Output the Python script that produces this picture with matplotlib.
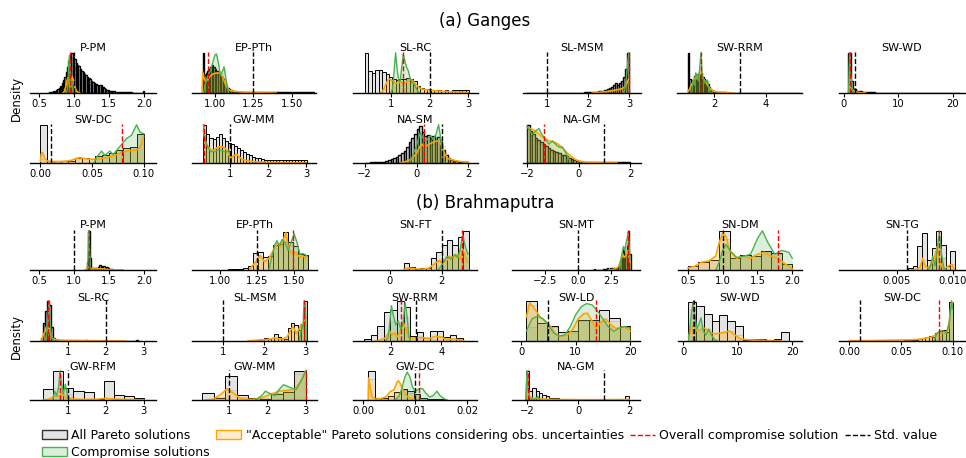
import numpy as np
import matplotlib.pyplot as plt
from matplotlib.patches import Patch
from matplotlib.lines import Line2D

W, H = 966, 458

GRAY = '#e4e4e4'
ORANGE = '#ffa500'
GREEN = '#4caf50'

# ---------------- Ganges ----------------
ga_names = ['P-PM', 'EP-PTh', 'SL-RC', 'SL-MSM', 'SW-RRM', 'SW-WD',
            'SW-DC', 'GW-MM', 'NA-SM', 'NA-GM']
ga_overall = [0.94, 0.955, 1.31, 2.99, 1.5, 1.05, 0.079, 0.31, 0.27, -1.35]
ga_std = [1.0, 1.25, 2.0, 1.0, 3.0, 2.0, 0.01, 1.0, 1.0, 1.0]

ga_ppm_all = [0.1, 0.1, 0.2, 0.2, 0.3, 0.4, 0.5, 0.7, 1.0, 1.3,
              1.8, 2.4, 3.2, 4.0, 5.2, 6.5, 8.0, 9.5, 10.0, 9.0,
              8.5, 7.5, 7.0, 6.8, 6.0, 5.5, 5.2, 4.8, 4.5, 4.0,
              3.8, 3.4, 3.0, 2.8, 2.5, 2.2, 2.0, 1.8, 1.9, 2.0,
              1.5, 1.2, 1.0, 0.8, 0.7, 0.6, 0.5, 0.4, 0.4, 0.3,
              0.3, 0.3, 0.2, 0.2, 0.2, 0.2, 0.2, 0.15, 0.15, 0.15,
              0.15, 0.1, 0.1, 0.1, 0.1, 0.1, 0.1, 0.1, 0.1, 0.4]
ga_ppm_acc = [1.5, 2.5, 3.0, 2.5, 3.0, 3.5, 2.0, 1.0]
ga_ppm_cmp = [6.0, 7.0, 2.0]
ga_ppm_acc_kde = [(0.84, 0), (0.86, 0.4), (0.88, 1.5), (0.90, 3.2), (0.915, 3.8), (0.93, 2.2),
                  (0.945, 1.6), (0.96, 3.0), (0.975, 4.0), (0.99, 3.2), (1.005, 1.8), (1.02, 1.0),
                  (1.04, 0.4), (1.06, 0.1), (1.08, 0)]
ga_ppm_cmp_kde = [(0.89, 0), (0.905, 1.0), (0.915, 4.0), (0.925, 8.0), (0.935, 9.3), (0.945, 7.0),
                  (0.955, 3.5), (0.965, 1.5), (0.975, 2.0), (0.985, 1.0), (1.0, 0.2), (1.01, 0)]

ga_epth_all = [10.0, 4.5, 5.0, 5.5, 6.0, 6.5, 7.0, 6.5, 6.0, 5.5,
               5.0, 4.5, 4.0, 3.5, 2.5, 1.8, 1.2, 0.9, 0.7, 0.6,
               0.5, 0.4, 0.35, 0.3, 0.3, 0.25, 0.25, 0.2, 0.2, 0.2,
               0.2, 0.2, 0.2, 0.15, 0.2, 0.2, 0.15, 0.2, 0.2, 0.15,
               0.2, 0.15, 0.15, 0.2, 0.15, 0.15, 0.2, 0.15, 0.15, 0.15,
               0.15, 0.2, 0.15, 0.15, 0.15, 0.2, 0.15, 0.15, 0.15, 0.15,
               0.15, 0.15, 0.2, 0.15, 0.15, 0.15, 0.15, 0.2, 0.15, 0.15,
               0.15, 0.15, 0.15]
ga_epth_acc = [6.0, 3.5, 3.5, 4.0, 4.5, 5.0, 5.0, 5.0, 4.8, 4.5, 4.5, 4.2, 3.5, 2.5, 1.5, 1.0, 0.6]
ga_epth_cmp = [2.5, 4.5, 5.5, 6.5, 7.0, 6.0, 5.0, 4.0, 4.0, 4.5, 5.5, 5.0, 3.0, 1.0, 0.5]
ga_epth_acc_kde = [(0.915, 0), (0.92, 5.2), (0.93, 3.5), (0.94, 2.8), (0.96, 3.8), (0.98, 4.6),
                   (1.0, 4.9), (1.02, 5.0), (1.04, 4.8), (1.055, 3.5), (1.07, 2.0), (1.085, 1.0),
                   (1.1, 0.6), (1.13, 0.4), (1.17, 0.25), (1.22, 0.15), (1.3, 0.05), (1.4, 0)]
ga_epth_cmp_kde = [(0.925, 0), (0.935, 2.0), (0.95, 4.0), (0.97, 5.5), (0.985, 7.5), (1.0, 9.5),
                   (1.01, 9.7), (1.025, 7.0), (1.035, 4.5), (1.045, 5.0), (1.06, 6.5), (1.07, 4.0),
                   (1.08, 1.5), (1.09, 0)]

ga_slrc_all = [10.0, 5.4, 5.0, 5.7, 5.7, 5.2, 4.7, 3.9, 3.4, 3.2,
               3.5, 3.6, 3.8, 3.4, 2.9, 1.8, 1.2, 1.0, 0.9, 0.8,
               0.8, 0.7, 0.6, 0.7, 0.6, 0.8, 0.8, 0.8, 0.8, 0.8]
ga_slrc_acc = [1.0, 2.5, 3.0, 2.8, 2.6, 2.8, 2.6, 3.0, 3.0, 2.2, 1.2]
ga_slrc_cmp = [1.5, 3.0, 2.8, 3.0, 3.2, 3.0, 2.0, 0.5]
ga_slrc_acc_kde = [(0.72, 0), (0.78, 0.4), (0.84, 1.5), (0.9, 2.8), (0.95, 3.5), (1.0, 3.3),
                   (1.06, 2.9), (1.12, 2.5), (1.18, 2.4), (1.25, 2.8), (1.32, 2.4), (1.38, 2.6),
                   (1.45, 3.3), (1.52, 3.4), (1.58, 2.9), (1.65, 2.1), (1.72, 1.4), (1.8, 1.0),
                   (1.9, 0.8), (2.0, 0.7), (2.2, 0.5), (2.4, 0.4), (2.6, 0.3), (2.8, 0.2), (3.0, 0.1)]
ga_slrc_cmp_kde = [(1.0, 0), (1.04, 1.0), (1.08, 5.0), (1.12, 10.0), (1.16, 6.0), (1.2, 3.0),
                   (1.24, 3.0), (1.28, 6.5), (1.32, 9.6), (1.36, 8.0), (1.4, 6.5), (1.45, 5.5),
                   (1.5, 3.5), (1.55, 2.6), (1.6, 2.2), (1.65, 1.2), (1.7, 0.3), (1.74, 0)]

ga_slmsm_all = [0.1, 0.1, 0.1, 0.1, 0.1, 0.1, 0.1, 0.1, 0.1, 0.1,
                0.1, 0.1, 0.1, 0.1, 0.1, 0.1, 0.1, 0.1, 0.1, 0.1,
                0.1, 0.1, 0.1, 0.1, 0.1, 0.1, 0.1, 0.1, 0.15, 0.15,
                0.15, 0.2, 0.2, 0.25, 0.3, 0.4, 0.5, 0.6, 0.8, 1.0,
                1.2, 1.6, 2.0, 2.4, 2.0, 2.4, 3.0, 4.0, 6.0, 10.0]
ga_slmsm_acc = [0.2, 0.3, 0.4, 0.5, 0.6, 0.7, 0.8, 0.9, 1.0, 1.3, 2.0, 3.5]
ga_slmsm_cmp = [0.5, 3.0, 9.0]
ga_slmsm_acc_kde = [(2.1, 0), (2.3, 0.2), (2.5, 0.4), (2.6, 0.6), (2.7, 0.8), (2.8, 1.0),
                    (2.85, 1.2), (2.9, 1.6), (2.95, 2.5), (2.99, 3.5)]
ga_slmsm_cmp_kde = [(2.86, 0), (2.9, 1.5), (2.94, 4.5), (2.97, 8.0), (2.99, 10.0), (3.0, 9.0)]

ga_swrrm_all = [10.0, 3.5, 3.0, 3.3, 3.6, 4.2, 4.5, 4.8, 4.5, 4.6,
                5.0, 4.0, 3.6, 3.0, 2.8, 2.2, 1.5, 1.0, 0.7, 0.5,
                0.4, 0.35, 0.3, 0.25, 0.2, 0.2, 0.15, 0.15, 0.15, 0.1,
                0.1, 0.1, 0.12, 0.1, 0.1, 0.1, 0.08, 0.1, 0.1, 0.1,
                0.1, 0.08, 0.1, 0.1, 0.1, 0.12, 0.1, 0.1, 0.08, 0.1,
                0.1, 0.1, 0.08, 0.1, 0.1, 0.1, 0.1, 0.08, 0.1, 0.1,
                0.1, 0.1, 0.1, 0.08, 0.1, 0.1, 0.1, 0.1, 0.1, 0.08,
                0.1, 0.1, 0.1, 0.1, 0.08, 0.1, 0.1, 0.1, 0.1, 0.1,
                0.08, 0.1, 0.1, 0.1, 0.1, 0.1]
ga_swrrm_acc = [1.5, 2.5, 3.0, 3.5, 3.2, 4.0, 3.5, 4.0, 4.5, 3.5, 3.2, 2.5, 2.0, 1.2, 0.8]
ga_swrrm_cmp = [2.0, 2.5, 3.5, 3.0, 4.0, 6.0, 3.0, 3.0, 2.5, 2.5, 1.0, 0.3]
ga_swrrm_acc_kde = [(1.0, 0.3), (1.05, 0.8), (1.1, 1.5), (1.15, 2.2), (1.2, 3.0), (1.25, 3.8),
                    (1.3, 3.4), (1.35, 4.5), (1.4, 3.5), (1.45, 4.5), (1.5, 5.0), (1.55, 4.0),
                    (1.6, 3.5), (1.65, 3.0), (1.7, 2.5), (1.8, 1.5), (1.9, 0.8), (2.0, 0.4),
                    (2.2, 0.2), (2.4, 0.1), (2.6, 0.05), (2.7, 0)]
ga_swrrm_cmp_kde = [(1.15, 0), (1.2, 3.0), (1.25, 2.0), (1.3, 5.0), (1.35, 4.0), (1.4, 3.0),
                    (1.45, 6.0), (1.5, 10.0), (1.55, 4.0), (1.6, 3.5), (1.65, 2.5), (1.7, 3.0),
                    (1.75, 3.2), (1.8, 1.5), (1.85, 0.3), (1.9, 0)]

ga_swwd_all = [10.0, 3.0, 1.0, 0.5, 0.4, 0.3, 0.2, 0.2, 0.15, 0.15,
               0.1, 0.1, 0.1, 0.1, 0.1, 0.1, 0.1, 0.1, 0.1, 0.1,
               0.1, 0.1, 0.1, 0.1, 0.1, 0.1, 0.1, 0.1, 0.1, 0.1,
               0.1, 0.1, 0.1, 0.1, 0.1, 0.1, 0.1, 0.1, 0.1, 0.1, 0.1]
ga_swwd_acc = [1.0, 0.5]
ga_swwd_cmp = [4.0]
ga_swwd_acc_kde = [(0.8, 0), (1.0, 1.5), (1.3, 1.2), (1.6, 0.8), (2.0, 0.4), (2.5, 0.2),
                   (3.0, 0.1), (4.0, 0)]
ga_swwd_cmp_kde = [(0.85, 0), (0.95, 6.0), (1.05, 10.0), (1.15, 6.0), (1.3, 4.0), (1.45, 2.5),
                   (1.6, 0.5), (1.8, 0)]

ga_swdc_all = [10.0, 0.6, 0.5, 0.5, 0.6, 1.3, 1.3, 1.0, 1.8, 2.0, 2.6, 3.4, 4.0, 4.2, 7.5]
ga_swdc_acc = [1.0, 0.5, 0.5, 0.5, 0.6, 1.3, 1.3, 1.0, 1.8, 2.0, 2.6, 3.4, 4.0, 4.2, 7.5]
ga_swdc_cmp = [1.8, 2.0, 2.6, 3.4, 4.0, 4.2, 7.5]
ga_swdc_acc_kde = [(0.0, 0.5), (0.001, 2.5), (0.002, 2.8), (0.004, 1.5), (0.006, 0.6),
                   (0.01, 0.4), (0.015, 0.4), (0.02, 0.4), (0.025, 0.5), (0.03, 0.7),
                   (0.035, 1.2), (0.038, 1.4), (0.042, 1.2), (0.046, 1.0), (0.05, 1.0),
                   (0.055, 1.0), (0.06, 1.2), (0.065, 1.5), (0.07, 1.8), (0.075, 2.3),
                   (0.08, 2.9), (0.085, 3.2), (0.09, 3.3), (0.095, 3.6), (0.098, 5.0), (0.1, 7.0)]
ga_swdc_cmp_kde = [(0.052, 0), (0.0544, 1.5), (0.0593, 3.1), (0.0625, 2.0), (0.0673, 3.1),
                   (0.0706, 2.25), (0.077, 4.3), (0.0835, 6.4), (0.0883, 7.25), (0.0932, 10.0),
                   (0.0964, 8.1), (0.1, 7.7)]

ga_gwmm_all = [10.0, 7.5, 6.5, 6.2, 6.8, 7.5, 6.5, 5.8, 5.2, 5.0,
               4.5, 4.0, 3.4, 2.8, 2.4, 2.0, 1.7, 1.4, 1.2, 1.0,
               0.9, 0.9, 0.8, 0.8, 0.8, 0.8, 0.7, 0.8, 0.7, 0.8,
               0.7, 0.8, 0.7, 0.8]
ga_gwmm_acc = [8.0, 4.5, 3.5, 3.2, 3.8, 4.0, 3.8, 3.0, 2.0, 1.6, 2.0, 1.5, 0.9, 0.7, 0.5, 0.4, 0.3, 0.2]
ga_gwmm_cmp = [9.0, 4.0, 3.0, 3.0, 3.3, 3.3, 3.0, 3.2, 3.0]
ga_gwmm_acc_kde = [(0.3, 8.5), (0.35, 5.5), (0.43, 4.2), (0.5, 3.5), (0.56, 3.3), (0.63, 3.8),
                   (0.69, 4.2), (0.78, 4.3), (0.87, 3.9), (0.94, 2.9), (1.0, 1.5), (1.05, 1.5),
                   (1.1, 1.9), (1.18, 2.3), (1.25, 1.5), (1.31, 1.0), (1.44, 0.6), (1.6, 0.4),
                   (1.8, 0.25), (2.0, 0.15), (2.4, 0.1), (2.8, 0.05), (3.0, 0.03)]
ga_gwmm_cmp_kde = [(0.3, 10.0), (0.35, 6.0), (0.42, 4.0), (0.5, 3.0), (0.6, 3.0), (0.7, 3.5),
                   (0.8, 3.2), (0.9, 2.8), (0.97, 3.4), (1.0, 3.0)]

ga_nasm_all = [0.1, 0.1, 0.15, 0.2, 0.2, 0.25, 0.3, 0.35, 0.6, 0.8,
               1.0, 1.2, 1.5, 2.0, 2.6, 3.2, 4.2, 5.4, 6.5, 7.5,
               8.8, 9.8, 8.0, 7.0, 7.2, 6.5, 7.0, 6.0, 6.8, 5.5,
               3.5, 2.0, 1.2, 0.8, 0.6, 0.4, 0.3, 0.3, 0.2, 0.2]
ga_nasm_acc = [0.5, 1.0, 1.5, 2.5, 3.5, 4.5, 5.0, 4.5, 4.0, 4.5,
               5.0, 5.0, 5.5, 5.5, 4.5, 2.5, 1.2, 0.8, 0.6, 0.4]
ga_nasm_cmp = [1.0, 3.0, 5.0, 6.5, 6.5, 5.5, 6.0, 6.0, 6.0, 6.5, 6.0, 2.5]
ga_nasm_acc_kde = [(-0.6, 0), (-0.4, 0.4), (-0.2, 1.0), (0.0, 2.5), (0.1, 4.0), (0.2, 5.0),
                   (0.3, 4.2), (0.4, 4.5), (0.5, 5.0), (0.6, 5.3), (0.7, 5.6), (0.8, 5.8),
                   (0.9, 5.5), (1.0, 4.0), (1.1, 2.2), (1.2, 1.2), (1.3, 1.0), (1.4, 0.8),
                   (1.6, 0.5), (1.8, 0.3), (2.0, 0.2)]
ga_nasm_cmp_kde = [(-0.25, 0), (-0.15, 2.0), (0.0, 4.5), (0.1, 7.0), (0.15, 8.0), (0.25, 6.5),
                   (0.35, 5.5), (0.45, 6.5), (0.55, 7.2), (0.65, 6.0), (0.75, 7.5), (0.85, 10.0),
                   (0.92, 7.0), (1.0, 2.5), (1.05, 0.8), (1.1, 0)]

ga_nagm_all = [10.0, 8.5, 7.5, 6.5, 6.0, 5.5, 5.0, 4.5, 4.0, 3.5,
               3.2, 3.0, 2.5, 2.2, 2.0, 1.8, 1.3, 1.0, 0.7, 0.5,
               0.4, 0.35, 0.3, 0.3, 0.25, 0.25, 0.2, 0.2, 0.2, 0.2,
               0.2, 0.2, 0.2, 0.2, 0.2, 0.25, 0.2, 0.2, 0.25, 0.3]
ga_nagm_acc = [9.0, 8.0, 7.0, 6.0, 5.5, 5.0, 4.8, 4.5, 4.0, 3.6,
               3.2, 2.8, 2.5, 2.0, 1.6, 1.2, 0.8, 0.5, 0.3, 0.2]
ga_nagm_cmp = [9.5, 8.0, 7.0, 6.0, 5.5, 5.0, 4.5, 4.0, 3.6, 3.0, 2.8, 2.5, 2.3, 2.0, 1.4, 0.8, 0.3]
ga_nagm_acc_kde = [(-2.0, 9.3), (-1.86, 9.0), (-1.7, 8.5), (-1.6, 7.9), (-1.45, 7.0), (-1.3, 6.4),
                   (-1.15, 5.8), (-1.0, 5.5), (-0.85, 5.2), (-0.7, 4.4), (-0.55, 3.4), (-0.4, 2.4),
                   (-0.25, 1.5), (-0.1, 0.85), (0.05, 0.45), (0.2, 0.25), (0.4, 0.15), (0.7, 0.08),
                   (1.0, 0.05), (1.5, 0.02)]
ga_nagm_cmp_kde = [(-2.0, 9.6), (-1.9, 8.5), (-1.79, 7.5), (-1.65, 8.5), (-1.54, 9.0), (-1.45, 7.8),
                   (-1.34, 6.6), (-1.15, 4.9), (-1.02, 5.8), (-0.9, 5.0), (-0.83, 4.5), (-0.7, 4.0),
                   (-0.63, 4.2), (-0.52, 3.0), (-0.44, 1.9), (-0.36, 0.8), (-0.3, 0)]

# ---------------- Brahmaputra ----------------
br_names = ['P-PM', 'EP-PTh', 'SN-FT', 'SN-MT', 'SN-DM', 'SN-TG',
            'SL-RC', 'SL-MSM', 'SW-RRM', 'SW-LD', 'SW-WD', 'SW-DC',
            'GW-RFM', 'GW-MM', 'GW-DC', 'NA-GM']
br_overall = [1.21, 1.49, 2.78, 3.8, 1.8, 0.0088, 0.48, 2.96, 2.42, 13.7, 1.8, 0.087,
              0.8, 3.0, 0.0108, -1.97]
br_std = [1.0, 1.25, 2.0, 0.0, 1.0, 0.0059, 2.0, 1.0, 3.0, 5.0, 2.0, 0.01,
          1.0, 1.0, 0.01, 1.0]

br_ppm_all = [2.0, 10.0, 3.0, 0.6, 0.4, 0.5, 0.4, 0.6, 0.8, 1.2, 1.0, 0.8, 0.9,
              0.6, 0.7, 0.4, 0.3, 0.2, 0.2, 0.1, 0.1, 0.1, 0.1, 0.05, 0.05, 0.05]
br_ppm_acc = [0.5, 1.0, 0.6, 0.3, 0.2]
br_ppm_cmp = [6.0]
br_ppm_acc_kde = [(1.16, 0), (1.19, 0.5), (1.21, 0.8), (1.23, 0.5), (1.26, 0.3), (1.3, 0.25),
                  (1.35, 0.3), (1.4, 0.3), (1.45, 0.2), (1.5, 0.1), (1.6, 0.05), (1.7, 0)]
br_ppm_cmp_kde = [(1.19, 0), (1.2, 3.0), (1.21, 10.0), (1.22, 6.0), (1.23, 1.0), (1.24, 0)]

br_epth_all = [0.2, 0.2, 0.2, 0.6, 0.9, 4.3, 4.6, 3.3, 3.5, 6.3, 6.7, 9.8, 7.1, 6.2, 4.2, 3.9]
br_epth_acc = [1.5, 3.0, 2.5, 3.0, 5.5, 6.0, 8.5, 5.0, 4.5, 4.0, 3.5]
br_epth_cmp = [1.0, 6.0, 6.5, 7.5, 6.5, 6.0, 4.0, 3.8]
br_epth_acc_kde = [(1.2, 0.3), (1.24, 2.0), (1.27, 3.7), (1.3, 2.1), (1.33, 3.0), (1.36, 5.0),
                   (1.385, 6.7), (1.41, 6.0), (1.43, 8.0), (1.445, 9.5), (1.46, 6.0), (1.48, 4.2),
                   (1.5, 4.6), (1.52, 4.0), (1.54, 3.3), (1.56, 3.6), (1.58, 3.0), (1.59, 2.8)]
br_epth_cmp_kde = [(1.33, 0), (1.35, 3.5), (1.37, 6.5), (1.385, 7.5), (1.40, 6.3), (1.42, 7.8),
                   (1.44, 7.0), (1.46, 5.0), (1.48, 7.0), (1.5, 9.3), (1.52, 7.0), (1.54, 4.0),
                   (1.56, 4.2), (1.58, 3.8), (1.59, 3.5)]

br_snft_all = [1.9, 0.7, 0.3, 0.6, 0.5, 3.0, 4.7, 6.5, 7.6, 6.3, 8.5, 10.0]
br_snft_acc = [0.3, 0.5, 0.3, 0.3, 0.5, 1.5, 2.0, 2.5, 3.0, 3.5, 4.0, 3.0]
br_snft_cmp = [1.0, 2.5, 3.0, 3.5, 5.0, 4.5]
br_snft_acc_kde = [(0.54, 0.2), (0.7, 0.5), (0.9, 0.4), (1.1, 0.2), (1.3, 0.25), (1.5, 0.5),
                   (1.7, 1.5), (1.9, 2.5), (2.0, 1.8), (2.15, 2.2), (2.3, 3.5), (2.45, 3.0),
                   (2.6, 4.0), (2.7, 2.8), (2.8, 5.3), (2.9, 3.5), (3.0, 2.0)]
br_snft_cmp_kde = [(1.85, 0), (1.95, 0.8), (2.05, 2.0), (2.2, 3.5), (2.35, 2.8), (2.5, 4.0),
                   (2.6, 3.2), (2.7, 5.0), (2.8, 9.0), (2.9, 6.0), (3.0, 4.0)]

br_snmt_all = [0.1, 0.1, 0.2, 0.1, 0.1, 0.1, 0.1, 0.1, 0.1, 0.2,
               0.3, 0.3, 0.4, 0.3, 0.4, 0.5, 0.4, 0.5, 0.6, 0.5,
               0.8, 1.5, 2.5, 3.5, 5.5, 3.0, 4.0, 6.0, 10.0, 4.0]
br_snmt_acc = [0.5, 1.5, 2.0, 3.0, 4.0, 3.0, 3.5, 4.5, 5.0, 2.0]
br_snmt_cmp = [1.0, 3.0, 5.0, 4.0, 5.0, 7.0, 9.0, 3.0]
br_snmt_acc_kde = [(2.3, 0), (2.6, 0.1), (2.9, 0.4), (3.1, 1.0), (3.2, 2.0), (3.3, 3.0),
                   (3.4, 4.0), (3.5, 3.2), (3.6, 3.5), (3.7, 4.2), (3.8, 5.0), (3.9, 3.0), (3.95, 2.0)]
br_snmt_cmp_kde = [(3.15, 0), (3.25, 2.5), (3.35, 4.5), (3.45, 6.0), (3.55, 5.0), (3.65, 7.0),
                   (3.75, 8.5), (3.82, 9.5), (3.9, 5.0), (3.95, 2.5)]

br_sndm_all = [1.0, 2.0, 2.6, 10.0, 3.0, 3.8, 3.6, 4.8, 4.4, 1.5]
br_sndm_acc = [1.0, 2.0, 2.6, 8.0, 3.0, 3.6, 3.5, 4.5, 4.2, 1.5]
br_sndm_cmp = [4.5, 3.0, 3.8, 3.6, 4.8, 4.4, 1.5]
br_sndm_acc_kde = [(0.5, 0.5), (0.6, 1.0), (0.7, 2.0), (0.8, 2.3), (0.9, 3.5), (0.95, 7.0),
                   (1.0, 9.5), (1.05, 8.5), (1.1, 5.0), (1.2, 3.0), (1.3, 3.5), (1.4, 3.0),
                   (1.5, 4.0), (1.6, 4.5), (1.7, 3.5), (1.8, 3.0), (1.9, 1.5), (2.0, 0.3)]
br_sndm_cmp_kde = [(0.9, 0), (0.95, 2.0), (1.0, 5.0), (1.05, 6.5), (1.1, 5.0), (1.2, 3.2),
                   (1.3, 3.5), (1.4, 4.0), (1.5, 8.0), (1.57, 10.0), (1.65, 7.0), (1.75, 4.0),
                   (1.8, 4.5), (1.85, 5.0), (1.95, 4.5), (2.0, 3.0)]

br_sntg_all = [0.6, 1.0, 6.0, 9.5, 2.5, 5.5, 10.0, 6.5, 1.0, 4.8]
br_sntg_acc = [0.5, 2.5, 1.0, 1.5, 4.0, 3.0, 0.8, 1.5]
br_sntg_cmp = [0.5, 2.5, 8.0, 3.0]
br_sntg_acc_kde = [(0.0062, 0), (0.0068, 0.2), (0.0071, 0.8), (0.0073, 3.0), (0.0075, 1.0),
                   (0.0078, 0.5), (0.0081, 1.5), (0.0084, 3.5), (0.0086, 6.0), (0.0088, 2.5),
                   (0.0091, 0.5), (0.0094, 0.6), (0.0097, 1.2), (0.0099, 1.5), (0.0101, 0.3)]
br_sntg_cmp_kde = [(0.0078, 0), (0.008, 1.0), (0.0082, 3.5), (0.0084, 1.0), (0.0086, 5.0),
                   (0.0088, 9.5), (0.009, 4.0), (0.0092, 0.5), (0.0094, 0)]

br_slrc_all = [0.8, 4.5, 7.5, 10.0, 9.0, 3.5, 0.8, 0.3, 0.2, 0.1,
               0.05, 0.05, 0, 0, 0, 0, 0, 0, 0.3, 0,
               0, 0, 0, 0.3, 0, 0, 0, 0, 0.1, 0,
               0, 0, 0, 0, 0, 0, 0, 0, 0, 0,
               0, 0, 0, 0, 0, 0, 0, 0, 0, 0, 0.2]
br_slrc_acc = [0.8, 2.0, 2.5, 3.0, 2.5, 1.5, 0.5, 0.2]
br_slrc_cmp = [1.5, 6.0, 7.0, 1.0]
br_slrc_acc_kde = [(0.3, 0), (0.35, 1.5), (0.4, 2.4), (0.43, 3.5), (0.46, 2.5), (0.5, 3.2),
                   (0.55, 1.5), (0.6, 0.6), (0.7, 0.3), (0.9, 0.2), (1.2, 0.15), (1.5, 0.1),
                   (2.0, 0.05), (2.5, 0.02)]
br_slrc_cmp_kde = [(0.4, 0), (0.44, 2.0), (0.47, 6.0), (0.5, 10.0), (0.53, 5.0), (0.56, 1.5),
                   (0.6, 0.3), (0.65, 0)]

br_slmsm_all = [0.2, 0.2, 0.3, 0.3, 0.5, 0.7, 0.6, 0.8, 1.8, 1.0, 0.8, 0.6, 3.2, 4.4, 4.0, 2.8, 4.0, 10.0]
br_slmsm_acc = [0.3, 0.4, 0.4, 0.7, 0.8, 0.6, 0.5, 0.6, 2.0, 2.5, 2.0, 2.5, 4.0, 6.0]
br_slmsm_cmp = [1.0, 3.0, 9.0]
br_slmsm_acc_kde = [(1.6, 0), (1.8, 0.2), (2.0, 0.3), (2.15, 0.5), (2.25, 0.8), (2.35, 0.5),
                    (2.45, 0.5), (2.55, 1.0), (2.61, 2.3), (2.69, 3.6), (2.77, 1.9), (2.83, 2.8),
                    (2.89, 4.2), (2.93, 3.5), (2.97, 5.7), (3.0, 6.0)]
br_slmsm_cmp_kde = [(2.84, 0), (2.87, 1.5), (2.9, 4.0), (2.93, 3.0), (2.96, 10.0), (2.99, 9.0), (3.01, 0)]

br_swrrm_all = [0.5, 1.5, 3.8, 7.3, 7.6, 10.0, 8.5, 1.3, 2.3, 0.8, 2.6, 2.6, 0.9, 1.6, 0.8]
br_swrrm_acc = [0.8, 2.0, 1.8, 3.5, 1.0, 0.7, 0.9, 0.6, 1.2, 1.0, 0.5, 0.4]
br_swrrm_cmp = [5.0, 4.5, 6.0]
br_swrrm_acc_kde = [(1.4, 0), (1.6, 0.3), (1.8, 0.8), (1.95, 2.5), (2.05, 1.5), (2.15, 2.0),
                    (2.25, 1.0), (2.35, 2.0), (2.5, 4.5), (2.6, 3.0), (2.7, 1.0), (2.8, 0.5),
                    (3.0, 0.8), (3.2, 0.9), (3.5, 0.6), (3.8, 1.2), (4.0, 1.0), (4.2, 0.4),
                    (4.5, 0.5), (4.8, 0.2), (4.9, 0)]
br_swrrm_cmp_kde = [(1.8, 0), (1.9, 1.0), (1.97, 5.0), (2.03, 8.8), (2.1, 6.5), (2.2, 4.0),
                    (2.3, 5.0), (2.4, 3.0), (2.48, 4.0), (2.57, 9.5), (2.65, 6.0), (2.72, 1.0), (2.78, 0)]

br_swld_all = [10.0, 4.5, 3.8, 2.2, 2.6, 5.3, 5.2, 7.6, 5.6, 3.7]
br_swld_acc = [9.0, 4.5, 3.5, 1.5, 2.0, 5.0, 5.0, 5.0, 5.0, 3.5]
br_swld_cmp = [3.5, 4.5, 3.5, 2.2, 2.6, 5.3, 5.2, 5.0, 3.5, 3.5]
br_swld_acc_kde = [(1.0, 6.0), (1.6, 9.5), (2.5, 8.0), (3.5, 6.0), (4.5, 5.0), (5.5, 3.5),
                   (6.5, 1.5), (7.5, 1.2), (8.5, 1.5), (9.5, 3.0), (10.5, 5.5), (11.5, 6.8),
                   (12.2, 6.9), (13.0, 5.0), (13.8, 3.0), (14.5, 4.5), (15.5, 5.5), (16.5, 4.0),
                   (17.5, 3.0), (18.8, 3.6), (19.5, 3.0), (20.0, 2.5)]
br_swld_cmp_kde = [(1.0, 2.5), (2.0, 5.5), (3.0, 6.2), (4.0, 5.5), (5.0, 4.0), (6.0, 2.0),
                   (7.0, 1.2), (8.0, 1.5), (9.0, 3.5), (10.0, 6.5), (11.0, 8.5), (12.0, 9.3),
                   (13.0, 9.0), (14.0, 7.5), (15.0, 5.5), (16.0, 3.5), (17.0, 2.4), (18.0, 3.2),
                   (19.0, 3.6), (20.0, 3.2)]

br_swwd_all = [9.8, 8.8, 6.7, 5.0, 6.4, 5.0, 3.8, 0.25, 0.6, 0.5, 0.0, 0.6, 2.3]
br_swwd_acc = [4.0, 3.0, 3.0, 2.0, 2.0, 2.5, 1.5, 0.3, 0.3, 0.2]
br_swwd_cmp = [8.0, 4.0, 2.5, 0.5]
br_swwd_acc_kde = [(1.0, 1.0), (1.5, 3.0), (2.0, 4.0), (2.5, 2.5), (3.0, 2.8), (4.0, 3.2),
                   (5.0, 2.0), (6.0, 1.8), (7.0, 2.0), (8.0, 2.3), (8.5, 2.5), (9.5, 1.5),
                   (10.5, 0.5), (12.0, 0.3), (14.0, 0.2), (16.0, 0.1), (18.0, 0.05)]
br_swwd_cmp_kde = [(1.0, 0), (1.4, 5.0), (1.8, 9.5), (2.1, 7.0), (2.5, 3.0), (3.0, 4.5),
                   (3.3, 5.8), (3.7, 2.5), (4.2, 1.5), (4.7, 3.0), (5.2, 1.5), (5.8, 0.3), (6.2, 0)]

br_swdc_all = [0.05, 0.05, 0.05, 0.05, 0.1, 0.05, 0.05, 0.1, 0.1, 0.1,
               0.1, 0.3, 0.1, 0.1, 0.1, 0.1, 0.3, 0.3, 0.2, 0.3,
               0.6, 0.8, 1.0, 1.2, 1.0, 2.0, 2.6, 2.8, 2.2, 9.8]
br_swdc_acc = [0.5, 0.6, 0.8, 1.0, 0.9, 1.8, 2.2, 2.2, 2.0, 9.0]
br_swdc_cmp = [1.5, 2.4, 2.6, 2.0, 9.5]
br_swdc_acc_kde = [(0.0, 0.1), (0.02, 0.1), (0.04, 0.2), (0.05, 0.25), (0.06, 0.3), (0.07, 0.5),
                   (0.075, 0.8), (0.08, 1.0), (0.085, 1.8), (0.09, 2.0), (0.093, 1.8),
                   (0.096, 3.0), (0.098, 8.0), (0.1, 9.5)]
br_swdc_cmp_kde = [(0.082, 0), (0.085, 2.0), (0.088, 2.5), (0.091, 2.5), (0.094, 2.0),
                   (0.097, 5.0), (0.099, 10.0), (0.1, 8.0)]

br_gwrfm_all = [3.9, 10.0, 4.2, 3.0, 2.7, 0.4, 6.3, 1.8, 1.45, 0.85]
br_gwrfm_acc = [0.5, 1.5, 1.0, 0.3, 0.3, 0.3, 0.6, 0.3, 0.2, 0.1]
br_gwrfm_cmp = [4.0, 2.0]
br_gwrfm_acc_kde = [(0.35, 0), (0.5, 0.3), (0.6, 1.0), (0.7, 1.8), (0.78, 1.0), (0.85, 2.5),
                    (0.92, 1.0), (1.0, 0.5), (1.2, 0.3), (1.5, 0.2), (1.8, 0.3), (2.0, 0.6),
                    (2.2, 0.3), (2.5, 0.2), (2.8, 0.1), (3.0, 0.05)]
br_gwrfm_cmp_kde = [(0.6, 0), (0.65, 3.0), (0.7, 1.5), (0.75, 4.0), (0.79, 9.5), (0.84, 5.0),
                    (0.88, 2.0), (0.93, 5.4), (0.98, 2.0), (1.02, 0)]

br_gwmm_all = [2.4, 0.6, 8.1, 1.6, 0.6, 0.5, 2.0, 2.8, 10.0]
br_gwmm_acc = [0.3, 1.0, 3.5, 1.0, 0.2, 0.8, 2.5, 3.0, 9.0]
br_gwmm_cmp = [0.5, 2.0, 2.8, 9.5]
br_gwmm_acc_kde = [(0.4, 0), (0.6, 0.3), (0.8, 2.0), (0.95, 3.8), (1.1, 2.5), (1.3, 0.5),
                   (1.5, 0.2), (1.7, 0.3), (1.9, 1.0), (2.1, 2.0), (2.3, 3.0), (2.5, 3.3),
                   (2.7, 3.6), (2.85, 6.0), (3.0, 10.0)]
br_gwmm_cmp_kde = [(1.7, 0), (1.85, 1.5), (1.95, 3.0), (2.05, 2.3), (2.2, 1.5), (2.3, 3.5),
                   (2.42, 5.2), (2.6, 4.2), (2.75, 3.6), (2.9, 7.0), (3.0, 10.0)]

br_gwdc_all = [10.0, 0.85, 0.85, 1.45, 2.65, 3.9, 3.0, 2.0, 0.85, 0.5, 0.3, 0.2]
br_gwdc_acc = [7.0, 0.4, 0.5, 1.2, 2.5, 3.5, 2.5, 0.5, 0.1]
br_gwdc_cmp = [0.5, 3.5, 3.0, 2.0, 0.85, 0.5, 0.3, 0.2]
br_gwdc_acc_kde = [(0.001, 0), (0.0011, 7.5), (0.0014, 4.0), (0.0018, 1.0), (0.0025, 0.3),
                   (0.0035, 0.5), (0.0045, 1.2), (0.0052, 2.8), (0.0056, 3.2), (0.006, 3.5),
                   (0.0065, 5.8), (0.0068, 6.6), (0.0072, 5.5), (0.0078, 3.0), (0.0085, 1.2),
                   (0.0092, 0.5), (0.01, 0.2), (0.011, 0.05), (0.012, 0)]
br_gwdc_cmp_kde = [(0.006, 0), (0.0065, 0.5), (0.007, 1.5), (0.0075, 4.0), (0.008, 7.5),
                   (0.0085, 9.5), (0.009, 8.0), (0.0095, 4.5), (0.01, 3.0), (0.0105, 3.5),
                   (0.011, 4.0), (0.0115, 3.8), (0.012, 2.5), (0.0128, 1.0), (0.0135, 1.5),
                   (0.0142, 3.0), (0.0148, 1.5), (0.0155, 0.5), (0.0162, 0)]

br_nagm_all = [10.0, 3.2, 4.2, 3.0, 2.4, 1.8, 1.2, 0.8, 0.6, 0.6,
               0.4, 0.3, 0.3, 0.3, 0.2, 0.2, 0.15, 0.1, 0.1, 0.1,
               0.1, 0.1, 0.1, 0.1, 0.1, 0.1, 0.1, 0.1, 0.1, 0.3, 1.5]
br_nagm_acc = [7.0, 0.8, 0.6, 0.5, 0.4, 0.3, 0.2, 0.2]
br_nagm_cmp = [9.0, 0.5, 0.3, 1.0]
br_nagm_acc_kde = [(-2.05, 0), (-2.0, 8.0), (-1.95, 3.0), (-1.9, 1.0), (-1.8, 0.6), (-1.6, 0.5),
                   (-1.4, 0.3), (-1.0, 0.2), (0.0, 0.1), (1.0, 0.1), (1.8, 0.15), (2.0, 0.2)]
br_nagm_cmp_kde = [(-2.05, 0), (-2.0, 10.0), (-1.95, 4.0), (-1.9, 1.0), (-1.85, 0.5), (-1.75, 0),
                   (-1.65, 0.6), (-1.58, 1.2), (-1.5, 0)]

# panel layout: (histogram start, bin width, acc offset, cmp offset, xlim, xticks, column, row)
ga_cols = [(30, 156), (192, 316), (353, 478), (523, 641), (677, 802), (839, 965)]
ga_rows = [(52, 93, 48), (124, 163, 120)]
br_cols = [(30, 156), (192, 317), (353, 477), (512, 640), (678, 802), (839, 965)]
br_rows = [(230, 270, 225), (300, 341, 298), (370, 400, 367)]

ga_layout = [
    (0.6, 0.02, 14, 16, (0.37, 2.17), [0.5, 1.0, 1.5, 2.0], 0, 0),
    (0.92, 0.01, 0, 1, (0.85, 1.66), [1.0, 1.25, 1.5], 1, 0),
    (0.32, 0.09, 5, 8, (0.02, 3.25), [1, 2, 3], 2, 0),
    (0.5, 0.05, 38, 47, (0.415, 3.29), [1, 2, 3], 3, 0),
    (1.0, 0.05, 2, 4, (0.58, 5.38), [2, 4], 4, 0),
    (0.75, 0.5, 0, 0, (-0.9, 22.2), [0, 10, 20], 5, 0),
    (0.0, 0.1 / 15, 0, 8, (-0.01, 0.112), [0.0, 0.05, 0.1], 0, 1),
    (0.3, 0.08, 0, 0, (0.0, 3.26), [1, 2, 3], 1, 1),
    (-2.0, 0.1, 16, 18, (-2.45, 2.37), [-2, 0, 2], 2, 1),
    (-2.0, 0.1, 0, 0, (-2.16, 2.43), [-2, 0, 2], 3, 1),
]
br_layout = [
    (1.18, 0.02, 0, 1, (0.37, 2.17), [0.5, 1.0, 1.5, 2.0], 0, 0),
    (1.05, 0.034, 5, 8, (0.81, 1.655), [1.0, 1.25, 1.5], 1, 0),
    (0.54, 0.2075, 0, 6, (-1.42, 3.35), [0, 2], 2, 0),
    (1.0, 0.1, 20, 22, (-5.0, 4.7), [-2.5, 0.0, 2.5], 3, 0),
    (0.5, 0.15, 0, 3, (0.357, 2.14), [0.5, 1.0, 1.5, 2.0], 4, 0),
    (0.006, 0.00042, 2, 4, (-0.0002, 0.0111), [0.005, 0.010], 5, 0),
    (0.3, 0.05, 0, 2, (0.0, 3.32), [1, 2, 3], 0, 1),
    (1.6, 0.08, 4, 15, (0.25, 3.27), [1, 2, 3], 1, 1),
    (0.95, 0.26, 3, 4, (0.51, 5.41), [2, 4], 2, 1),
    (1.0, 1.9, 0, 0, (-1.65, 21.8), [0, 10, 20], 3, 1),
    (1.0, 1.42, 0, 0, (-0.92, 21.8), [0, 10, 20], 4, 1),
    (0.0, 0.1 / 30, 20, 25, (-0.01, 0.112), [0.0, 0.05, 0.1], 5, 1),
    (0.35, 0.265, 0, 1, (0.0, 3.32), [1, 2, 3], 0, 2),
    (0.3, 0.3, 0, 5, (0.04, 3.29), [1, 2, 3], 1, 2),
    (0.001, 0.00125, 0, 4, (-0.0019, 0.0219), [0.0, 0.01, 0.02], 2, 2),
    (-2.05, 0.13, 0, 0, (-2.59, 2.43), [-2, 0, 2], 3, 2),
]

ga_data = [
    (ga_ppm_all, ga_ppm_acc, ga_ppm_cmp, ga_ppm_acc_kde, ga_ppm_cmp_kde),
    (ga_epth_all, ga_epth_acc, ga_epth_cmp, ga_epth_acc_kde, ga_epth_cmp_kde),
    (ga_slrc_all, ga_slrc_acc, ga_slrc_cmp, ga_slrc_acc_kde, ga_slrc_cmp_kde),
    (ga_slmsm_all, ga_slmsm_acc, ga_slmsm_cmp, ga_slmsm_acc_kde, ga_slmsm_cmp_kde),
    (ga_swrrm_all, ga_swrrm_acc, ga_swrrm_cmp, ga_swrrm_acc_kde, ga_swrrm_cmp_kde),
    (ga_swwd_all, ga_swwd_acc, ga_swwd_cmp, ga_swwd_acc_kde, ga_swwd_cmp_kde),
    (ga_swdc_all, ga_swdc_acc, ga_swdc_cmp, ga_swdc_acc_kde, ga_swdc_cmp_kde),
    (ga_gwmm_all, ga_gwmm_acc, ga_gwmm_cmp, ga_gwmm_acc_kde, ga_gwmm_cmp_kde),
    (ga_nasm_all, ga_nasm_acc, ga_nasm_cmp, ga_nasm_acc_kde, ga_nasm_cmp_kde),
    (ga_nagm_all, ga_nagm_acc, ga_nagm_cmp, ga_nagm_acc_kde, ga_nagm_cmp_kde),
]
br_data = [
    (br_ppm_all, br_ppm_acc, br_ppm_cmp, br_ppm_acc_kde, br_ppm_cmp_kde),
    (br_epth_all, br_epth_acc, br_epth_cmp, br_epth_acc_kde, br_epth_cmp_kde),
    (br_snft_all, br_snft_acc, br_snft_cmp, br_snft_acc_kde, br_snft_cmp_kde),
    (br_snmt_all, br_snmt_acc, br_snmt_cmp, br_snmt_acc_kde, br_snmt_cmp_kde),
    (br_sndm_all, br_sndm_acc, br_sndm_cmp, br_sndm_acc_kde, br_sndm_cmp_kde),
    (br_sntg_all, br_sntg_acc, br_sntg_cmp, br_sntg_acc_kde, br_sntg_cmp_kde),
    (br_slrc_all, br_slrc_acc, br_slrc_cmp, br_slrc_acc_kde, br_slrc_cmp_kde),
    (br_slmsm_all, br_slmsm_acc, br_slmsm_cmp, br_slmsm_acc_kde, br_slmsm_cmp_kde),
    (br_swrrm_all, br_swrrm_acc, br_swrrm_cmp, br_swrrm_acc_kde, br_swrrm_cmp_kde),
    (br_swld_all, br_swld_acc, br_swld_cmp, br_swld_acc_kde, br_swld_cmp_kde),
    (br_swwd_all, br_swwd_acc, br_swwd_cmp, br_swwd_acc_kde, br_swwd_cmp_kde),
    (br_swdc_all, br_swdc_acc, br_swdc_cmp, br_swdc_acc_kde, br_swdc_cmp_kde),
    (br_gwrfm_all, br_gwrfm_acc, br_gwrfm_cmp, br_gwrfm_acc_kde, br_gwrfm_cmp_kde),
    (br_gwmm_all, br_gwmm_acc, br_gwmm_cmp, br_gwmm_acc_kde, br_gwmm_cmp_kde),
    (br_gwdc_all, br_gwdc_acc, br_gwdc_cmp, br_gwdc_acc_kde, br_gwdc_cmp_kde),
    (br_nagm_all, br_nagm_acc, br_nagm_cmp, br_nagm_acc_kde, br_nagm_cmp_kde),
]


def draw_panel(fig, name, data, layout, best, std, cols, rows):
    all_h, acc_h, cmp_h, acc_kde, cmp_kde = data
    x0, w, ia, ic, xlim, ticks, c, r = layout
    left, right = cols[c]
    top, bottom, title_y = rows[r]
    ax = fig.add_axes([left / W, 1 - bottom / H, (right - left) / W, (bottom - top) / H])

    # narrow bins get a slightly heavier outline so dense histograms read as solid
    bin_px = w / (xlim[1] - xlim[0]) * (right - left)
    edge_lw = 1.0 if bin_px < 3 else 0.7

    edges = x0 + w * np.arange(len(all_h))
    ax.bar(edges, all_h, width=w, align='edge', color=GRAY, edgecolor='black', linewidth=edge_lw)
    ax.bar(edges[ia:ia + len(acc_h)], acc_h, width=w, align='edge', color=ORANGE, alpha=0.12,
           edgecolor='black', linewidth=0.6)
    ax.bar(edges[ic:ic + len(cmp_h)], cmp_h, width=w, align='edge', color=GREEN, alpha=0.1,
           edgecolor='black', linewidth=0.6)

    for kde, col, lw in [(acc_kde, ORANGE, 1.2), (cmp_kde, GREEN, 1.0)]:
        kx, ky = zip(*kde)
        ax.fill_between(kx, ky, color=col, alpha=0.2, linewidth=0)
        ax.plot(kx, ky, color=col, lw=lw)

    ax.axvline(best, color='red', ls='--', lw=1.0)
    ax.axvline(std, color='black', ls='--', lw=1.0)

    ax.set_xlim(xlim)
    ax.set_ylim(0, 10.2)
    ax.set_xticks(ticks)
    ax.set_yticks([])
    ax.tick_params(axis='x', labelsize=7.2, length=3, width=0.8, pad=1.5)
    for s in ['top', 'right', 'left']:
        ax.spines[s].set_visible(False)
    ax.spines['bottom'].set_linewidth(1.0)
    fig.text((left + right) / 2 / W, 1 - title_y / H, name, ha='center', va='center', fontsize=8)


fig = plt.figure(figsize=(W / 100, H / 100), dpi=100)

for name, data, layout, best, std in zip(ga_names, ga_data, ga_layout, ga_overall, ga_std):
    draw_panel(fig, name, data, layout, best, std, ga_cols, ga_rows)
for name, data, layout, best, std in zip(br_names, br_data, br_layout, br_overall, br_std):
    draw_panel(fig, name, data, layout, best, std, br_cols, br_rows)

fig.text(485 / W, 1 - 21 / H, '(a) Ganges', ha='center', va='center', fontsize=12)
fig.text(485 / W, 1 - 203 / H, '(b) Brahmaputra', ha='center', va='center', fontsize=12)
fig.text(16 / W, 1 - 98 / H, 'Density', rotation=90, ha='center', va='center', fontsize=8.5)
fig.text(16 / W, 1 - 336 / H, 'Density', rotation=90, ha='center', va='center', fontsize=8.5)

handles = [
    Patch(facecolor=GRAY, edgecolor='#333333', label='All Pareto solutions'),
    Patch(facecolor='#dcefdc', edgecolor=GREEN, label='Compromise solutions'),
    Patch(facecolor='#ffeccc', edgecolor=ORANGE,
          label='"Acceptable" Pareto solutions considering obs. uncertainties'),
    Line2D([], [], color='red', ls='--', lw=1.0, label='Overall compromise solution'),
    Line2D([], [], color='black', ls='--', lw=1.0, label='Std. value'),
]
fig.legend(handles=handles, loc='upper left', bbox_to_anchor=(42 / W, 1 - 429 / H),
           ncol=4, frameon=False, fontsize=9, handlelength=2.0, handletextpad=0.35,
           columnspacing=0.5, borderaxespad=0, borderpad=0, labelspacing=0.3)

fig.savefig('out.png', dpi=100)
